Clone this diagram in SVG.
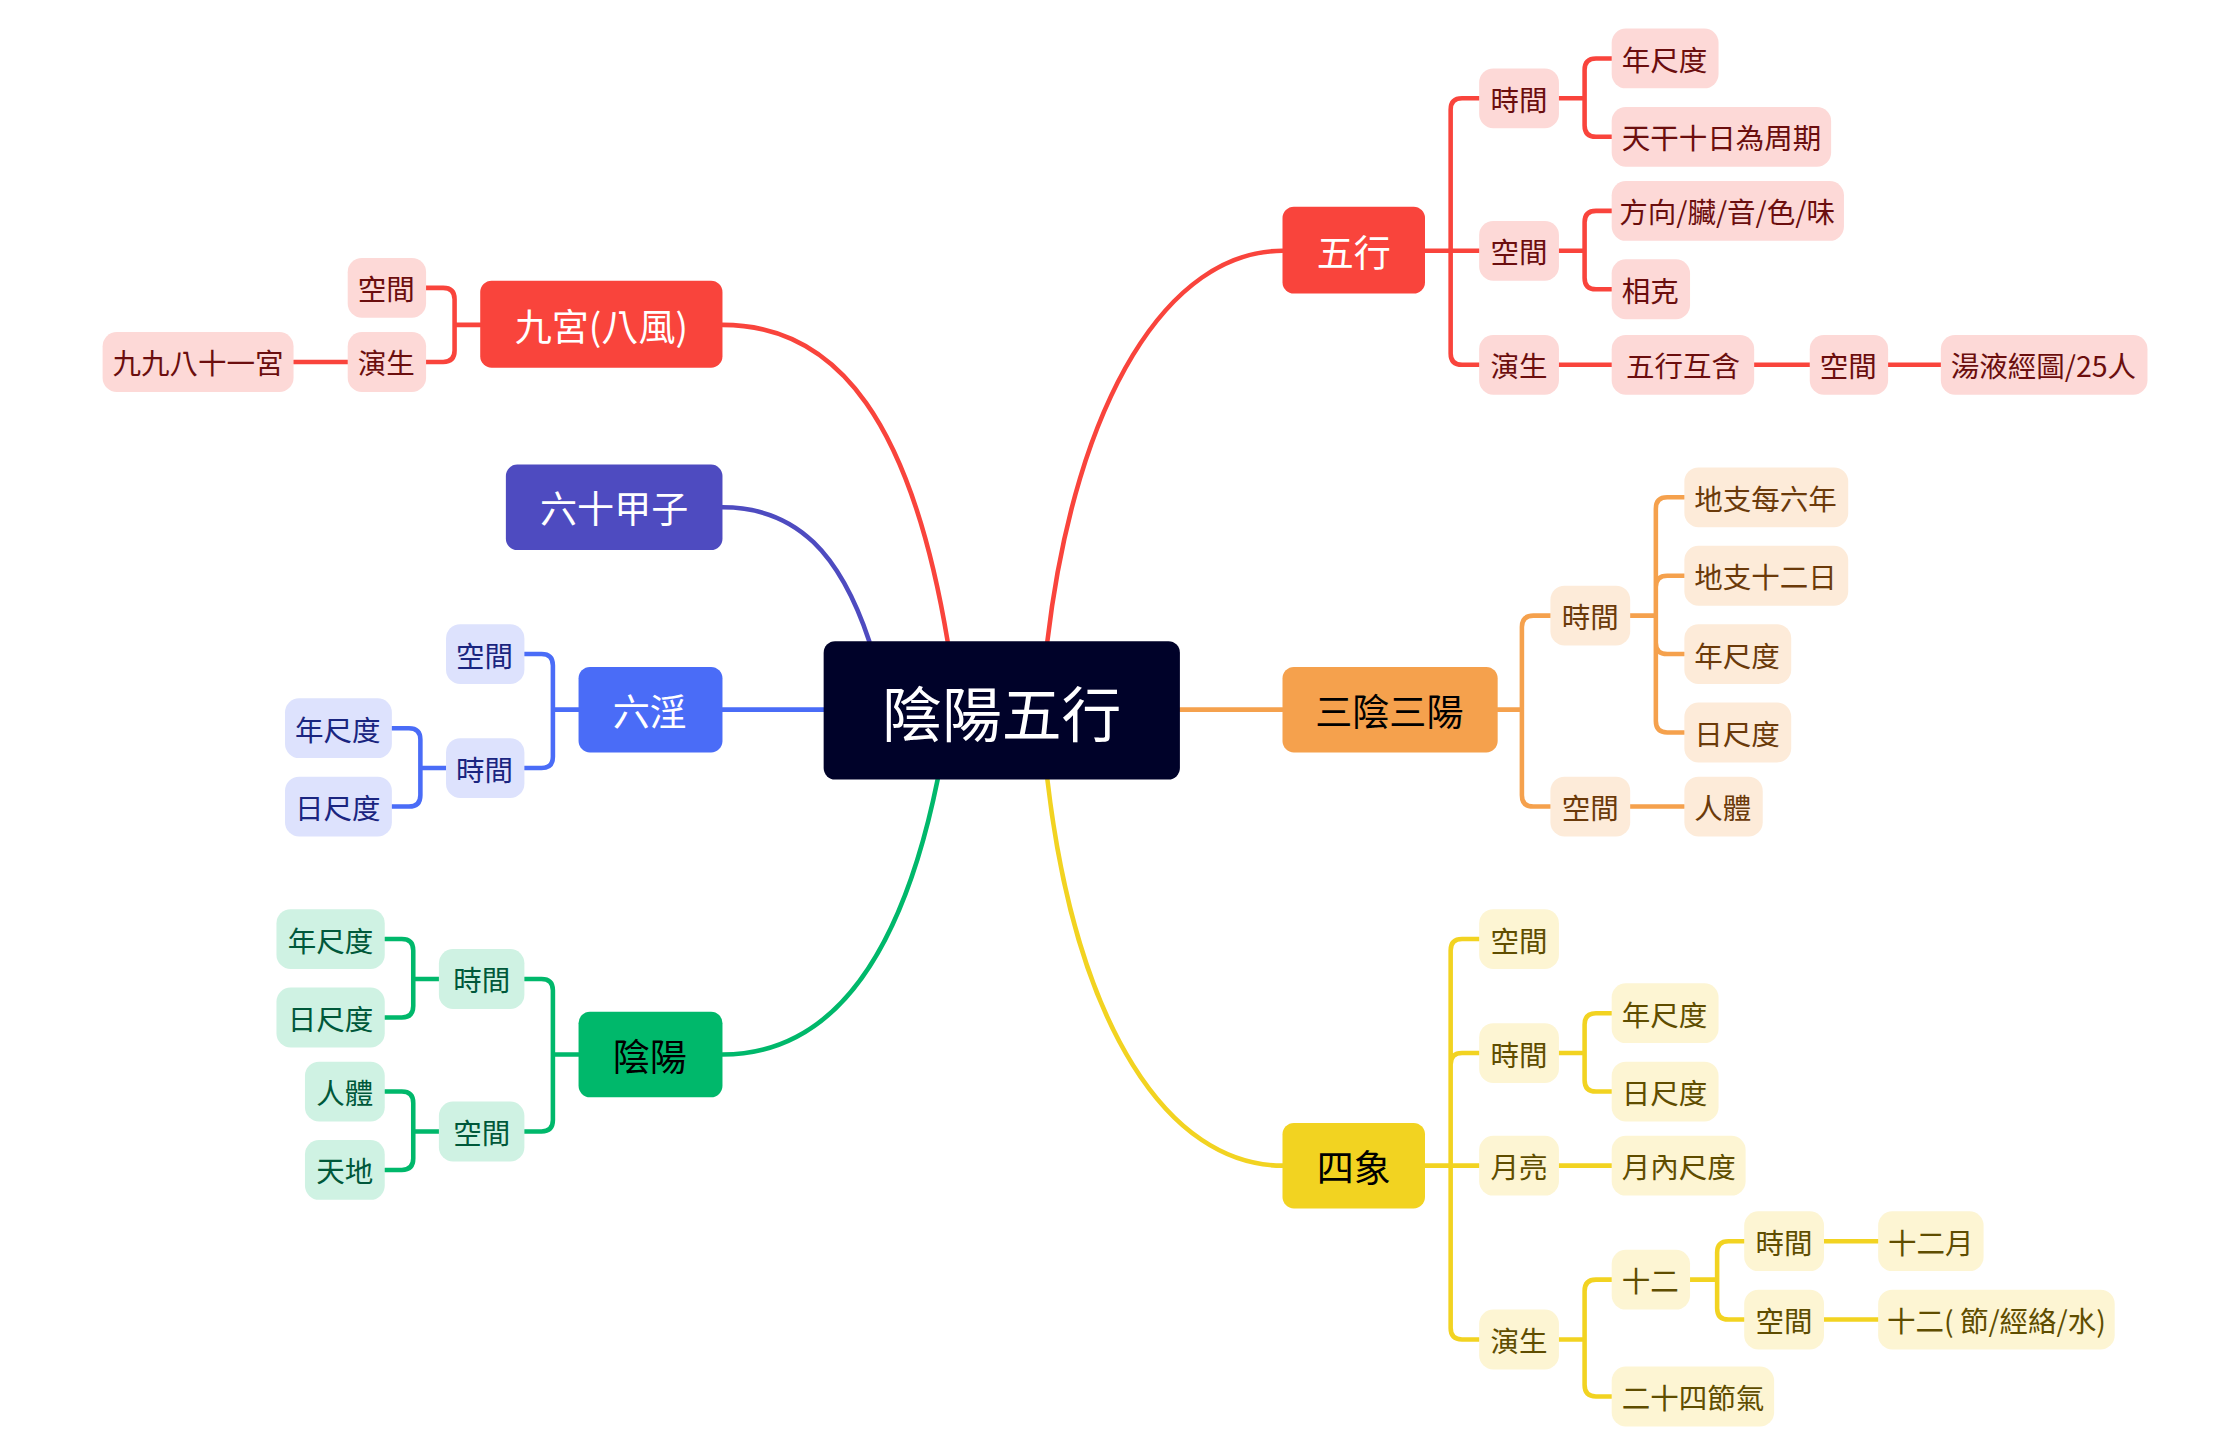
<svg xmlns="http://www.w3.org/2000/svg" width="2223" height="1447" viewBox="0 0 2223 1447">
<style>
text{font-family:"Noto Sans CJK TC","Noto Sans CJK SC",sans-serif;text-anchor:middle;dominant-baseline:central}
.s{font-size:20px}
.m{font-size:26px}
.c{fill:none;stroke-width:3.2;stroke-linecap:round}
.r{stroke:#F9443C}.o{stroke:#F5A14D}.y{stroke:#F2D321}.b{stroke:#4A6CF7}.p{stroke:#4E4BC0}.g{stroke:#00B86B}
.rf{fill:#FDD9D7}.rt{fill:#6B0E0E}
.of{fill:#FDEBD9}.ot{fill:#6B3A0A}
.yf{fill:#FDF5D3}.yt{fill:#5F4D00}
.bf{fill:#DDE2FD}.bt{fill:#1A2580}
.gf{fill:#CFF2E3}.gt{fill:#00583A}
</style>
<rect width="2223" height="1447" fill="#fff"/>
<g transform="scale(1.425)">
<g id="connectors">
<path class="c r" d="M735 450 C755 280 820 176 900 176"/>
<path class="c o" d="M828 498 H900"/>
<path class="c y" d="M735 547 C755 720 820 818 900 818"/>
<path class="c r" d="M665 450 C640 300 590 228 507 228"/>
<path class="c p" d="M610 450 C590 390 560 356 507 356"/>
<path class="c b" d="M578 498 H507"/>
<path class="c g" d="M658 547 C635 660 590 740 507 740"/>
<path class="c r" d="M1000 176 H1018 M1018 176 V77 Q1018 69 1026 69 H1038 M1018 176 H1038 M1018 176 V248 Q1018 256 1026 256 H1038"/>
<path class="c r" d="M1094 69 H1112 M1112 69 V49 Q1112 41 1120 41 H1131 M1112 69 V88 Q1112 96 1120 96 H1131"/>
<path class="c r" d="M1094 176 H1112 M1112 176 V156 Q1112 148 1120 148 H1131 M1112 176 V195 Q1112 203 1120 203 H1131"/>
<path class="c r" d="M1094 256 H1131 M1231 256 H1270 M1325 256 H1362"/>
<path class="c o" d="M1051 498 H1068 M1068 498 V440 Q1068 432 1076 432 H1088 M1068 498 V558 Q1068 566 1076 566 H1088"/>
<path class="c o" d="M1144 432 H1162 M1162 432 V357 Q1162 349 1170 349 H1182 M1162 432 V412 Q1162 404 1170 404 H1182 M1162 432 V451 Q1162 459 1170 459 H1182 M1162 432 V506 Q1162 514 1170 514 H1182 M1144 566 H1182"/>
<path class="c y" d="M1000 818 H1018 M1018 818 V667 Q1018 659 1026 659 H1038 M1018 818 V747 Q1018 739 1026 739 H1038 M1018 818 H1038 M1018 818 V932 Q1018 940 1026 940 H1038"/>
<path class="c y" d="M1094 739 H1112 M1112 739 V719 Q1112 711 1120 711 H1131 M1112 739 V758 Q1112 766 1120 766 H1131 M1094 818 H1131"/>
<path class="c y" d="M1094 940 H1112 M1112 940 V906 Q1112 898 1120 898 H1131 M1112 940 V972 Q1112 980 1120 980 H1131"/>
<path class="c y" d="M1186 898 H1205 M1205 898 V879 Q1205 871 1213 871 H1224 M1205 898 V918 Q1205 926 1213 926 H1224 M1280 871 H1318 M1280 926 H1318"/>
<path class="c r" d="M337 228 H319 M319 228 V210 Q319 202 311 202 H299 M319 228 V246 Q319 254 311 254 H299 M244 254 H206"/>
<path class="c b" d="M406 498 H388 M388 498 V467 Q388 459 380 459 H368 M388 498 V531 Q388 539 380 539 H368"/>
<path class="c b" d="M313 539 H295 M295 539 V519 Q295 511 287 511 H275 M295 539 V558 Q295 566 287 566 H275"/>
<path class="c g" d="M406 740 H388 M388 740 V695 Q388 687 380 687 H368 M388 740 V786 Q388 794 380 794 H368"/>
<path class="c g" d="M308 687 H290 M290 687 V667 Q290 659 282 659 H270 M290 687 V706 Q290 714 282 714 H270"/>
<path class="c g" d="M308 794 H290 M290 794 V774 Q290 766 282 766 H270 M290 794 V813 Q290 821 282 821 H270"/>
</g>
<g id="root"><rect x="578" y="450" width="250" height="97" rx="8" fill="#000229"/><text x="703" y="499" font-size="42" fill="#fff">陰陽五行</text></g>
<g id="wuxing"><rect x="900" y="145" width="100" height="61" rx="8" fill="#F9443C"/><text class="m" x="950" y="176" fill="#fff">五行</text></g>
<g id="sanyin"><rect x="900" y="468" width="151" height="60" rx="8" fill="#F5A14D"/><text class="m" x="975" y="498" fill="#000">三陰三陽</text></g>
<g id="sixiang"><rect x="900" y="788" width="100" height="60" rx="8" fill="#F2D321"/><text class="m" x="950" y="818" fill="#000">四象</text></g>
<g id="jiugong"><rect x="337" y="197" width="170" height="61" rx="8" fill="#F9443C"/><text class="m" x="422" y="228" fill="#fff">九宮(八風)</text></g>
<g id="liushi"><rect x="355" y="326" width="152" height="60" rx="8" fill="#4E4BC0"/><text class="m" x="431" y="356" fill="#fff">六十甲子</text></g>
<g id="liuyin"><rect x="406" y="468" width="101" height="60" rx="8" fill="#4A6CF7"/><text class="m" x="456" y="498" fill="#fff">六淫</text></g>
<g id="yinyang"><rect x="406" y="710" width="101" height="60" rx="8" fill="#00B86B"/><text class="m" x="456" y="740" fill="#000">陰陽</text></g>

<g id="wx-t"><rect class="rf" x="1038" y="48" width="56" height="42" rx="10"/><text class="s rt" x="1066" y="69">時間</text></g>
<g id="wx-s"><rect class="rf" x="1038" y="155" width="56" height="42" rx="10"/><text class="s rt" x="1066" y="176">空間</text></g>
<g id="wx-y"><rect class="rf" x="1038" y="235" width="56" height="42" rx="10"/><text class="s rt" x="1066" y="256">演生</text></g>
<g id="wx-t1"><rect class="rf" x="1131" y="20" width="75" height="42" rx="10"/><text class="s rt" x="1168" y="41">年尺度</text></g>
<g id="wx-t2"><rect class="rf" x="1131" y="75" width="154" height="42" rx="10"/><text class="s rt" x="1208" y="96">天干十日為周期</text></g>
<g id="wx-s1"><rect class="rf" x="1131" y="127" width="163" height="42" rx="10"/><text class="s rt" x="1212" y="148">方向/臟/音/色/味</text></g>
<g id="wx-s2"><rect class="rf" x="1131" y="182" width="55" height="42" rx="10"/><text class="s rt" x="1158" y="203">相克</text></g>
<g id="wx-y1"><rect class="rf" x="1131" y="235" width="100" height="42" rx="10"/><text class="s rt" x="1181" y="256">五行互含</text></g>
<g id="wx-y2"><rect class="rf" x="1270" y="235" width="55" height="42" rx="10"/><text class="s rt" x="1297" y="256">空間</text></g>
<g id="wx-y3"><rect class="rf" x="1362" y="235" width="145" height="42" rx="10"/><text class="s rt" x="1434" y="256">湯液經圖/25人</text></g>

<g id="sy-t"><rect class="of" x="1088" y="411" width="56" height="42" rx="10"/><text class="s ot" x="1116" y="432">時間</text></g>
<g id="sy-s"><rect class="of" x="1088" y="545" width="56" height="42" rx="10"/><text class="s ot" x="1116" y="566">空間</text></g>
<g id="sy-t1"><rect class="of" x="1182" y="328" width="115" height="42" rx="10"/><text class="s ot" x="1239" y="349">地支每六年</text></g>
<g id="sy-t2"><rect class="of" x="1182" y="383" width="115" height="42" rx="10"/><text class="s ot" x="1239" y="404">地支十二日</text></g>
<g id="sy-t3"><rect class="of" x="1182" y="438" width="75" height="42" rx="10"/><text class="s ot" x="1219" y="459">年尺度</text></g>
<g id="sy-t4"><rect class="of" x="1182" y="493" width="75" height="42" rx="10"/><text class="s ot" x="1219" y="514">日尺度</text></g>
<g id="sy-s1"><rect class="of" x="1182" y="545" width="55" height="42" rx="10"/><text class="s ot" x="1209" y="566">人體</text></g>

<g id="sx-s"><rect class="yf" x="1038" y="638" width="56" height="42" rx="10"/><text class="s yt" x="1066" y="659">空間</text></g>
<g id="sx-t"><rect class="yf" x="1038" y="718" width="56" height="42" rx="10"/><text class="s yt" x="1066" y="739">時間</text></g>
<g id="sx-m"><rect class="yf" x="1038" y="797" width="56" height="42" rx="10"/><text class="s yt" x="1066" y="818">月亮</text></g>
<g id="sx-y"><rect class="yf" x="1038" y="919" width="56" height="42" rx="10"/><text class="s yt" x="1066" y="940">演生</text></g>
<g id="sx-t1"><rect class="yf" x="1131" y="690" width="75" height="42" rx="10"/><text class="s yt" x="1168" y="711">年尺度</text></g>
<g id="sx-t2"><rect class="yf" x="1131" y="745" width="75" height="42" rx="10"/><text class="s yt" x="1168" y="766">日尺度</text></g>
<g id="sx-m1"><rect class="yf" x="1131" y="797" width="94" height="42" rx="10"/><text class="s yt" x="1178" y="818">月內尺度</text></g>
<g id="sx-y1"><rect class="yf" x="1131" y="877" width="55" height="42" rx="10"/><text class="s yt" x="1158" y="898">十二</text></g>
<g id="sx-y2"><rect class="yf" x="1131" y="959" width="114" height="42" rx="10"/><text class="s yt" x="1188" y="980">二十四節氣</text></g>
<g id="sx-y1t"><rect class="yf" x="1224" y="850" width="56" height="42" rx="10"/><text class="s yt" x="1252" y="871">時間</text></g>
<g id="sx-y1s"><rect class="yf" x="1224" y="905" width="56" height="42" rx="10"/><text class="s yt" x="1252" y="926">空間</text></g>
<g id="sx-y1t1"><rect class="yf" x="1318" y="850" width="74" height="42" rx="10"/><text class="s yt" x="1355" y="871">十二月</text></g>
<g id="sx-y1s1"><rect class="yf" x="1318" y="905" width="166" height="42" rx="10"/><text class="s yt" x="1401" y="926">十二( 節/經絡/水)</text></g>

<g id="jg-s"><rect class="rf" x="244" y="181" width="55" height="42" rx="10"/><text class="s rt" x="271" y="202">空間</text></g>
<g id="jg-y"><rect class="rf" x="244" y="233" width="55" height="42" rx="10"/><text class="s rt" x="271" y="254">演生</text></g>
<g id="jg-y1"><rect class="rf" x="72" y="233" width="134" height="42" rx="10"/><text class="s rt" x="139" y="254">九九八十一宮</text></g>

<g id="ly-s"><rect class="bf" x="313" y="438" width="55" height="42" rx="10"/><text class="s bt" x="340" y="459">空間</text></g>
<g id="ly-t"><rect class="bf" x="313" y="518" width="55" height="42" rx="10"/><text class="s bt" x="340" y="539">時間</text></g>
<g id="ly-t1"><rect class="bf" x="200" y="490" width="75" height="42" rx="10"/><text class="s bt" x="237" y="511">年尺度</text></g>
<g id="ly-t2"><rect class="bf" x="200" y="545" width="75" height="42" rx="10"/><text class="s bt" x="237" y="566">日尺度</text></g>

<g id="yy-t"><rect class="gf" x="308" y="666" width="60" height="42" rx="10"/><text class="s gt" x="338" y="687">時間</text></g>
<g id="yy-s"><rect class="gf" x="308" y="773" width="60" height="42" rx="10"/><text class="s gt" x="338" y="794">空間</text></g>
<g id="yy-t1"><rect class="gf" x="194" y="638" width="76" height="42" rx="10"/><text class="s gt" x="232" y="659">年尺度</text></g>
<g id="yy-t2"><rect class="gf" x="194" y="693" width="76" height="42" rx="10"/><text class="s gt" x="232" y="714">日尺度</text></g>
<g id="yy-s1"><rect class="gf" x="214" y="745" width="56" height="42" rx="10"/><text class="s gt" x="242" y="766">人體</text></g>
<g id="yy-s2"><rect class="gf" x="214" y="800" width="56" height="42" rx="10"/><text class="s gt" x="242" y="821">天地</text></g>
</g>
</svg>
